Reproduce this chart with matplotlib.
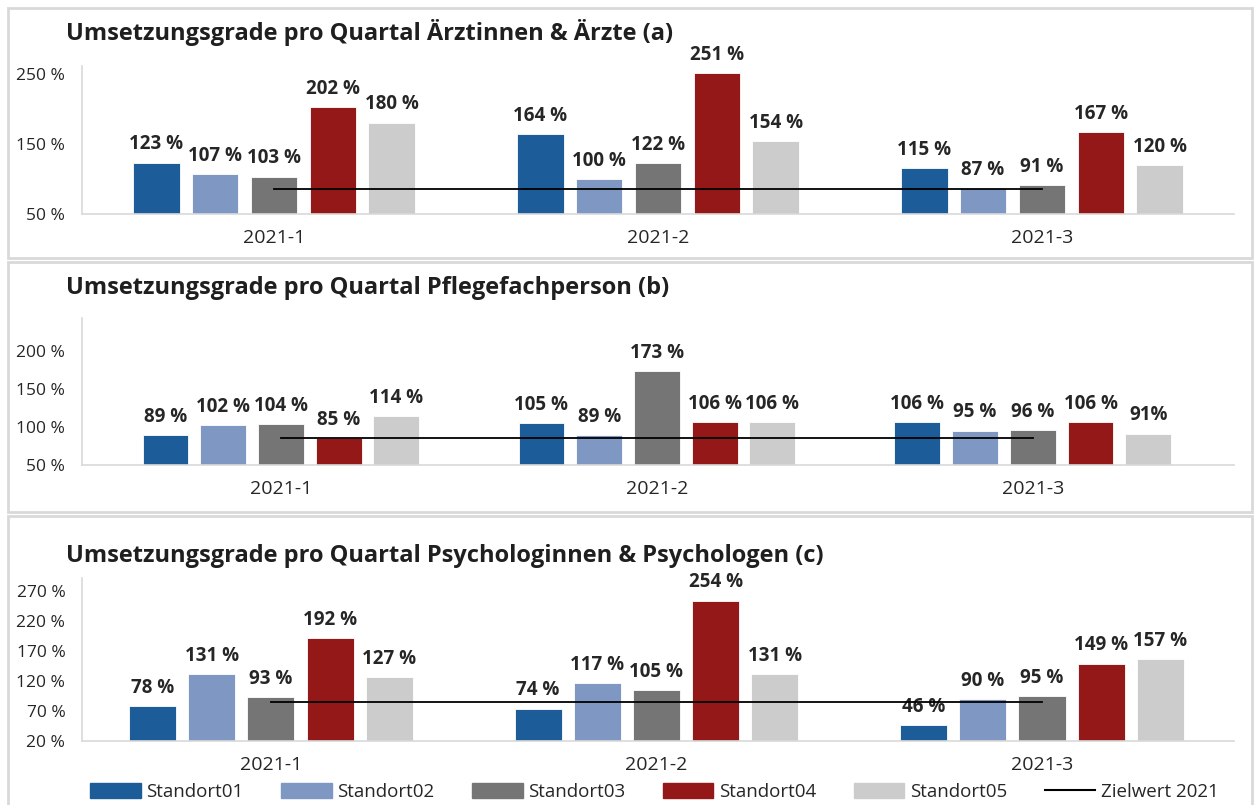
import matplotlib
matplotlib.use("Agg")
import matplotlib.pyplot as plt
import numpy as np
from matplotlib.patches import Rectangle
from matplotlib.lines import Line2D

plt.rcParams['font.family'] = ['Open Sans', 'DejaVu Sans']

quartale = ['2021-1', '2021-2', '2021-3']
standorte = ['Standort01', 'Standort02', 'Standort03', 'Standort04', 'Standort05']
colors = ['#1B5C99', '#7E98C3', '#757575', '#951818', '#CBCCCB']

# values per Standort, one entry per quartal
werte_a = [[123, 164, 115], [107, 100, 87], [103, 122, 91], [202, 251, 167], [180, 154, 120]]
werte_b = [[89, 105, 106], [102, 89, 95], [104, 173, 96], [85, 106, 106], [114, 106, 91]]
werte_c = [[78, 74, 46], [131, 117, 90], [93, 105, 95], [192, 254, 149], [127, 131, 157]]
label_b_last = {(4, 2): '91%'}
zielwert = [85, 85, 85]

titles = ['Umsetzungsgrade pro Quartal Ärztinnen & Ärzte (a)',
          'Umsetzungsgrade pro Quartal Pflegefachperson (b)',
          'Umsetzungsgrade pro Quartal Psychologinnen & Psychologen (c)']
yticks_a = [50, 150, 250]
yticks_b = [50, 100, 150, 200]
yticks_c = [20, 70, 120, 170, 220, 270]

W, H = 1256, 805
fig = plt.figure(figsize=(W / 100, H / 100), dpi=100)

# panel boxes (pixel coords top/bottom)
for top, bot in [(8, 258), (262, 512), (516, 812)]:
    fig.patches.append(Rectangle((8 / W, 1 - bot / H), 1244 / W, (bot - top) / H,
                                 transform=fig.transFigure, fill=False,
                                 edgecolor='#D9D9D9', lw=2))

# axes setup: (top px, bottom px, xlim, ylim, data, ticks, title y px, labels override)
panels = [
    (66, 214, (-0.5, 2.5), (50, 261), werte_a, yticks_a, 32, {}),
    (318, 465, (-0.529, 2.535), (50, 243), werte_b, yticks_b, 288, label_b_last),
    (578, 741, (-0.49, 2.498), (20, 292), werte_c, yticks_c, 556, {}),
]

x = np.arange(len(quartale))
bw = 0.122
pitch = 0.1535

for (top, bot, xl, yl, data, ticks, ty, overrides), title in zip(panels, titles):
    ax = fig.add_axes([82 / W, 1 - bot / H, (1234 - 82) / W, (bot - top) / H])
    for i, vals in enumerate(data):
        pos = x + (i - 2) * pitch
        ax.bar(pos, vals, width=bw, color=colors[i], edgecolor='white', linewidth=0.6,
               zorder=2)
        for j, v in enumerate(vals):
            txt = overrides.get((i, j), f'{v} %')
            ax.annotate(txt, (pos[j], v), xytext=(0, 6), textcoords='offset points',
                        ha='center', va='bottom', fontsize=13.5, fontweight='bold',
                        color='#262626')
    ax.plot(x, zielwert, color='black', lw=1.3, zorder=3)
    ax.set_xlim(*xl)
    ax.set_ylim(*yl)
    ax.set_yticks(ticks)
    ax.set_yticklabels([f'{t} %' for t in ticks], fontsize=12.5, color='#262626')
    ax.set_xticks(x)
    ax.set_xticklabels(quartale, fontsize=14, color='#262626')
    ax.tick_params(length=0)
    ax.tick_params(axis='x', pad=11)
    ax.tick_params(axis='y', pad=12)
    for s in ['top', 'right']:
        ax.spines[s].set_visible(False)
    for s in ['left', 'bottom']:
        ax.spines[s].set_color('#D9D9D9')
        ax.spines[s].set_linewidth(1.2)
    fig.text(66 / W, 1 - ty / H, title, fontsize=17, fontweight='bold',
             color='#1F1F1F', va='center', ha='left')

handles = [Rectangle((0, 0), 1, 1, color=c) for c in colors]
handles.append(Line2D([0], [0], color='black', lw=1.5))
fig.legend(handles, standorte + ['Zielwert 2021'], loc='center', ncol=6,
           bbox_to_anchor=(0.521, 1 - 792 / H), frameon=False, fontsize=13.5,
           handlelength=2.7, handleheight=0.9, columnspacing=2.0, handletextpad=0.3,
           labelcolor='#262626')

fig.savefig('out.png', dpi=100)
